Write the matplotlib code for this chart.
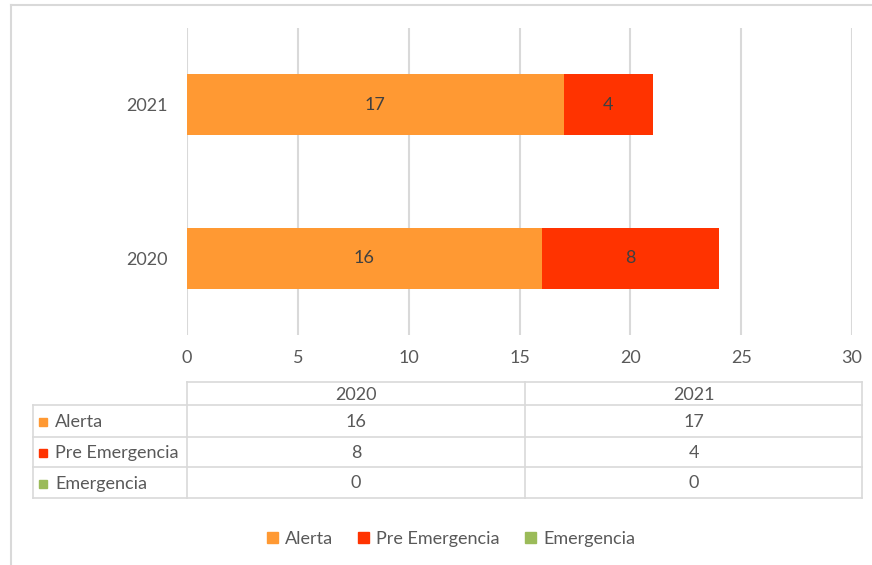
import matplotlib
matplotlib.use("Agg")
import matplotlib.pyplot as plt
from matplotlib.lines import Line2D
from matplotlib.patches import Rectangle
import numpy as np

plt.rcParams['font.family'] = ['Lato', 'DejaVu Sans']

years = ["2020", "2021"]
series_names = ["Alerta", "Pre Emergencia", "Emergencia"]
alerta = [16, 17]
pre_emergencia = [8, 4]
emergencia = [0, 0]
colors = ["#FF9933", "#FF3300", "#9BBB59"]
xticks = [0, 5, 10, 15, 20, 25, 30]

W, H = 872, 565
fig = plt.figure(figsize=(W / 100, H / 100), dpi=100)
FS = 13

def fx(px):
    return px / W

def fy(py):
    return 1 - py / H

ax = fig.add_axes([fx(187), fy(335), fx(852) - fx(187), fy(28) - fy(335)])
txt = "#595959"
grid = "#D9D9D9"

ypos = np.arange(len(years))
left = np.zeros(len(years))
for vals, c in zip([alerta, pre_emergencia, emergencia], colors):
    v = np.array(vals, dtype=float)
    ax.barh(ypos, v, left=left, height=0.4, color=c, zorder=3)
    for y, l, w in zip(ypos, left, v):
        if w > 0:
            ax.text(l + w / 2, y, f"{int(w)}", ha="center", va="center",
                    fontsize=FS, color="#404040", zorder=4)
    left += v

ax.set_xlim(0, 30)
ax.set_ylim(-0.5, 1.5)
ax.set_xticks(xticks)
ax.set_xticklabels([str(t) for t in xticks])
ax.set_yticks(ypos)
ax.set_yticklabels(years)
ax.tick_params(axis="both", length=0, labelsize=FS, colors=txt)
ax.tick_params(axis="x", pad=11)
ax.tick_params(axis="y", pad=14)
for s in ax.spines.values():
    s.set_visible(False)
ax.xaxis.grid(True, color=grid, lw=1.5, zorder=0)

# outer border (top & left visible)
fig.add_artist(Line2D([fx(11), 1], [fy(5), fy(5)], color=grid, lw=1.5))
fig.add_artist(Line2D([fx(11), fx(11)], [fy(5), 0], color=grid, lw=1.5))

# data table
tc = "#D9D9D9"
x0, x1, x2, x3 = 33, 187, 525, 862
rows_y = [382, 405, 437, 467, 498]
fig.add_artist(Line2D([fx(x1), fx(x3)], [fy(rows_y[0])] * 2, color=tc, lw=1.2))
for ry in rows_y[1:]:
    fig.add_artist(Line2D([fx(x0), fx(x3)], [fy(ry)] * 2, color=tc, lw=1.2))
fig.add_artist(Line2D([fx(x0)] * 2, [fy(rows_y[1]), fy(rows_y[-1])], color=tc, lw=1.2))
for xx in [x1, x2, x3]:
    fig.add_artist(Line2D([fx(xx)] * 2, [fy(rows_y[0]), fy(rows_y[-1])], color=tc, lw=1.2))

col_centers = [(x1 + x2) / 2, (x2 + x3) / 2]
for yr, cx in zip(years, col_centers):
    fig.text(fx(cx), fy((rows_y[0] + rows_y[1]) / 2 + 1), yr, ha="center", va="center",
             fontsize=FS, color=txt)
table_vals = [alerta, pre_emergencia, emergencia]
for i, (name, vals, c) in enumerate(zip(series_names, table_vals, colors)):
    cy = (rows_y[i + 1] + rows_y[i + 2]) / 2 + 1
    fig.add_artist(Rectangle((fx(39), fy(cy + 4)), fx(8), fy(0) - fy(8),
                             color=c, transform=fig.transFigure))
    fig.text(fx(55), fy(cy), name, ha="left", va="center", fontsize=FS, color=txt)
    for v, cx in zip(vals, col_centers):
        fig.text(fx(cx), fy(cy), str(v), ha="center", va="center", fontsize=FS, color=txt)

# legend
handles = [Rectangle((0, 0), 1, 1, color=c) for c in colors]
fig.legend(handles, series_names, loc="center", bbox_to_anchor=(fx(451), fy(539)),
           ncol=3, frameon=False, fontsize=FS, labelcolor=txt,
           handlelength=0.6, handleheight=0.6, handletextpad=0.4, columnspacing=1.4)

fig.savefig("out.png", dpi=100)
